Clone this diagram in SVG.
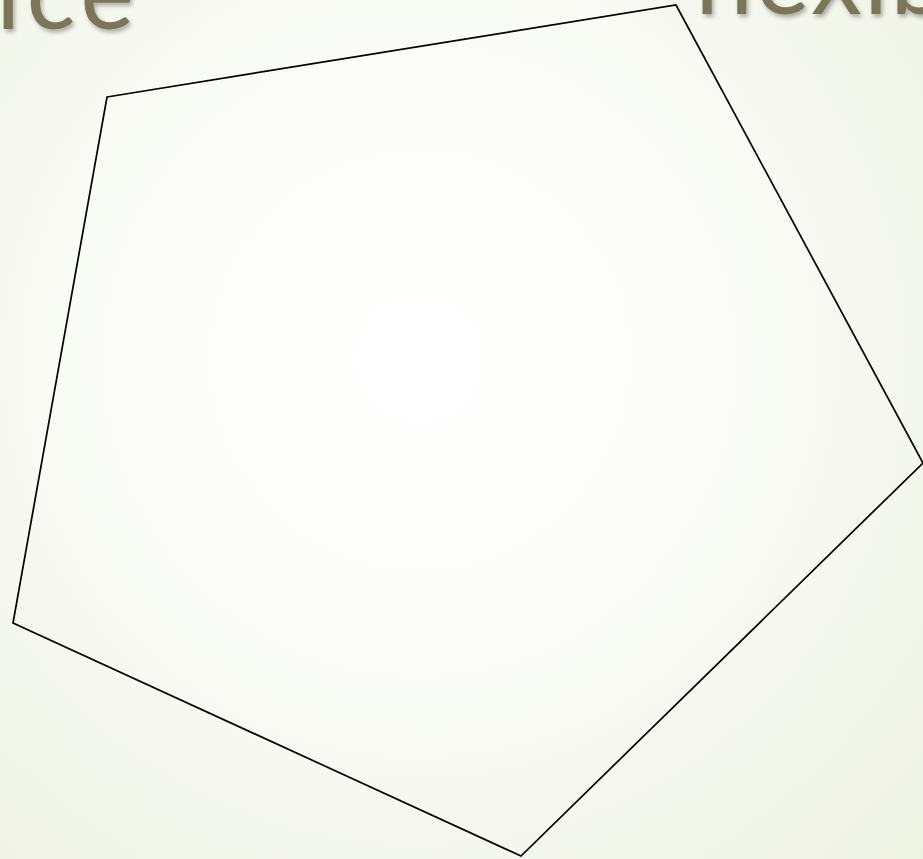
<svg xmlns="http://www.w3.org/2000/svg" width="923" height="859" viewBox="0 0 923 859">
<defs>
<radialGradient id="bg" cx="420" cy="360" r="720" gradientUnits="userSpaceOnUse">
<stop offset="0" stop-color="#ffffff"/>
<stop offset="0.35" stop-color="#fcfdfa"/>
<stop offset="1" stop-color="#eef2e2"/>
</radialGradient>
<filter id="sh" x="-10%" y="-50%" width="120%" height="200%">
<feDropShadow dx="2" dy="3" stdDeviation="2" flood-color="#000" flood-opacity="0.3"/>
</filter>
</defs>
<style>
.title{font-family:"Lato","Liberation Sans",sans-serif;font-size:102px;font-weight:400;fill:#7b7559;filter:url(#sh);}
.shape{fill:none;stroke:#000;stroke-width:1.7;stroke-linejoin:miter;}
</style>
<rect width="923" height="859" fill="url(#bg)"/>
<g id="titles">
<text class="title" x="-4" y="29" letter-spacing="6">ice</text>
<text class="title" x="692" y="14" letter-spacing="2">flexib</text>
</g>
<g id="pentagon">
<polygon class="shape" points="107,97 676,5 923,463 521,856 13,623"/>
</g>
</svg>
